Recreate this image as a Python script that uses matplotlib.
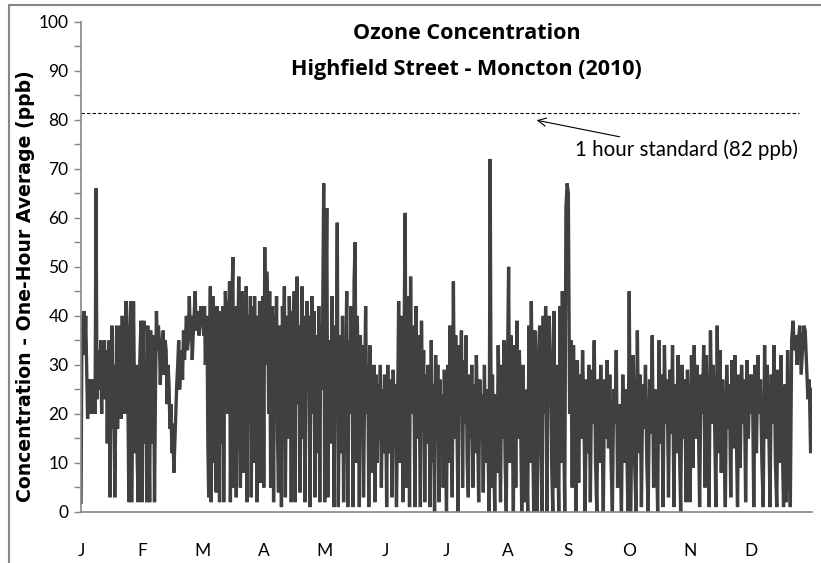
import numpy as np
import matplotlib
matplotlib.use("Agg")
import matplotlib.pyplot as plt
from matplotlib.patches import Rectangle

jan = [2, 40, 32, 41, 33, 40, 30, 19, 27, 20, 27, 22, 20, 27, 24, 20, 66, 23, 30, 33,
       25, 35, 20, 33, 28, 35, 23, 33, 14, 30, 35, 3, 25, 38, 17, 30, 3, 20, 38, 17,
       35, 25, 38, 19, 40, 27, 33, 20, 43, 30, 24, 2, 38, 43, 2, 20, 43, 25, 12, 30,
       10, 2, 25, 33, 39]
feb = [2, 30, 39, 14, 25, 2, 38, 20, 2, 37, 14, 30, 36, 2, 25, 41, 33, 38, 35, 26,
       33, 31, 37, 28, 35, 33, 22, 30, 26, 17, 22, 12, 18, 8, 14, 20, 26, 30, 35, 25,
       31, 33, 27, 37, 31, 35, 40, 33, 35, 44, 36, 40, 31, 36, 40, 45, 38, 37, 41, 36,
       38, 42, 40]
mar = [40, 36, 42, 30, 36, 40, 14, 3, 30, 46, 2, 25, 44, 10, 38, 20, 4, 42, 30, 36,
       2, 41, 14, 38, 42, 2, 30, 45, 38, 43, 20, 35, 47, 2, 25, 44, 52, 5, 30, 42,
       3, 20, 35, 48, 30, 5, 25, 45, 8, 41, 20, 33, 46, 2, 30, 40, 32, 44, 3, 25,
       42, 10, 44, 20, 38, 2, 40, 28, 43, 6, 36, 18, 44]
apr = [5, 54, 30, 49, 42, 20, 45, 5, 32, 42, 2, 40, 25, 44, 15, 4, 38, 22, 1, 42,
       30, 46, 3, 28, 40, 15, 44, 33, 2, 41, 28, 45, 2, 36, 48, 22, 38, 4, 30, 46,
       15, 40, 2, 26, 43, 30, 40, 1, 34, 44, 20, 41, 3, 30, 36, 12, 42, 2, 38, 25,
       40, 67]
may = [2, 40, 62, 3, 30, 35, 14, 44, 25, 1, 38, 25, 59, 1, 28, 36, 12, 40, 2, 20,
       30, 45, 1, 35, 20, 42, 30, 1, 47, 55, 10, 40, 28, 1, 36, 15, 34, 3, 25, 42,
       20, 30, 1, 34, 8, 27, 18, 30, 2, 28, 10, 26, 15, 30, 5, 25, 12, 28]
jun = [24, 1, 30, 12, 27, 20, 3, 29, 18, 26, 1, 20, 43, 10, 40, 25, 2, 35, 61, 5,
       30, 44, 1, 48, 20, 38, 28, 1, 42, 15, 36, 22, 1, 39, 22, 33, 2, 28, 14, 30,
       20, 1, 35, 10, 26, 0, 32, 18, 30, 2, 27, 12, 24, 5, 29, 15]
jul = [0, 30, 10, 38, 22, 3, 47, 15, 36, 20, 0, 34, 20, 37, 5, 31, 18, 36, 10, 3,
       28, 15, 30, 5, 26, 12, 32, 18, 2, 27, 20, 24, 4, 30, 10, 25, 15, 0, 72, 5,
       28, 12, 0, 24, 8, 34, 20, 2, 30, 15, 35, 10, 0]
aug = [28, 50, 10, 36, 20, 0, 34, 5, 39, 15, 33, 20, 0, 30, 2, 25, 12, 0, 38, 10,
       43, 20, 0, 37, 23, 0, 32, 38, 15, 0, 40, 20, 42, 0, 35, 40, 32, 10, 0, 41,
       5, 30, 15, 0, 42, 10, 45, 20, 0, 62, 67]
sep = [65, 20, 35, 5, 34, 15, 0, 31, 6, 28, 15, 33, 20, 0, 27, 12, 30, 2, 29, 18,
       35, 10, 0, 27, 10, 30, 18, 0, 27, 15, 31, 13, 28, 10, 0, 25, 18, 33, 5, 22,
       12, 0, 28, 10, 25, 15, 0]
oct_ = [45, 0, 18, 32, 10, 0, 37, 12, 28, 1, 26, 17, 30, 10, 0, 27, 16, 36, 5, 25,
        15, 0, 35, 14, 28, 1, 34, 18, 27, 3, 29, 16, 34, 1, 26, 12, 32, 15, 0, 30,
        15, 27, 2, 29, 18]
nov = [2, 32, 9, 34, 15, 30, 20, 1, 28, 20, 34, 5, 32, 15, 1, 37, 18, 30, 20, 1,
       38, 12, 33, 8, 27, 15, 1, 30, 17, 26, 3, 31, 13, 32, 18, 1, 28, 9, 30, 18,
       27, 2, 31, 15, 28]
dec = [20, 28, 1, 30, 12, 32, 20, 27, 10, 1, 34, 15, 30, 20, 1, 28, 18, 34, 10, 1,
       29, 10, 32, 15, 1, 26, 2, 33, 15, 1, 35, 39, 33, 36, 30, 35, 38, 28, 33, 38,
       37, 30, 23, 27, 12, 25]

months = [jan, feb, mar, apr, may, jun, jul, aug, sep, oct_, nov, dec]
month_labels = ["J", "F", "M", "A", "M", "J", "J", "A", "S", "O", "N", "D"]
standard = 81.3

# spread each month's readings across its slot on the time axis
x_parts, y_parts = [], []
for m, vals in enumerate(months):
    last = m == len(months) - 1
    x_parts.append(np.linspace(m, m + 1, len(vals), endpoint=last))
    y_parts.append(np.array(vals, dtype=float))
x = np.concatenate(x_parts)
y = np.concatenate(y_parts)

fig = plt.figure(figsize=(8.21, 5.63), dpi=100)
ax = fig.add_axes([0.0987, 0.0906, 0.8903, 0.8709])

ax.plot(x, y, color="#404040", lw=2.4, solid_joinstyle="miter")
ax.hlines(standard, 0, 11.78, colors="black", linestyles=(0, (3, 2)), lw=0.8)

ax.annotate("1 hour standard (82 ppb)", xy=(7.48, 79.9), xytext=(8.11, 73.8),
            fontsize=14.8, family="Lato", va="center", ha="left",
            arrowprops=dict(arrowstyle="->", color="black", lw=0.8, shrinkA=1, shrinkB=0))

ax.set_xlim(0, 12)
ax.set_ylim(0, 100)
ax.set_yticks(np.arange(0, 101, 10))
ax.set_yticks(np.arange(0, 101, 5), minor=True)
ax.set_xticks(np.arange(12))
ax.set_xticklabels(month_labels)
ax.tick_params(axis="y", which="both", direction="out", length=5, width=1,
               color="#868686", labelsize=12.5, pad=4)
ax.tick_params(axis="x", length=0, labelsize=12.5, pad=22)
for lab in ax.get_xticklabels() + ax.get_yticklabels():
    lab.set_family("Lato")

for side in ["top", "right"]:
    ax.spines[side].set_visible(False)
for side in ["left", "bottom"]:
    ax.spines[side].set_color("#868686")
    ax.spines[side].set_linewidth(1.2)

ax.set_ylabel("Concentration - One-Hour Average (ppb)", fontsize=13.6,
              fontweight="bold", family="DejaVu Sans")
ax.yaxis.set_label_coords(-0.063, 0.46)

fig.text(0.568, 0.94, "Ozone Concentration", ha="center", va="center",
         fontsize=15.5, fontweight="bold", family="Open Sans")
fig.text(0.568, 0.876, "Highfield Street - Moncton (2010)", ha="center", va="center",
         fontsize=15.5, fontweight="bold", family="Open Sans")

# outer chart frame
fig.patches.append(Rectangle((9 / 821, -0.05), 1.2, 1 - 5 / 563 + 0.05,
                             transform=fig.transFigure, fill=False,
                             edgecolor="#868686", lw=1.5))

fig.savefig("out.png", dpi=100)
